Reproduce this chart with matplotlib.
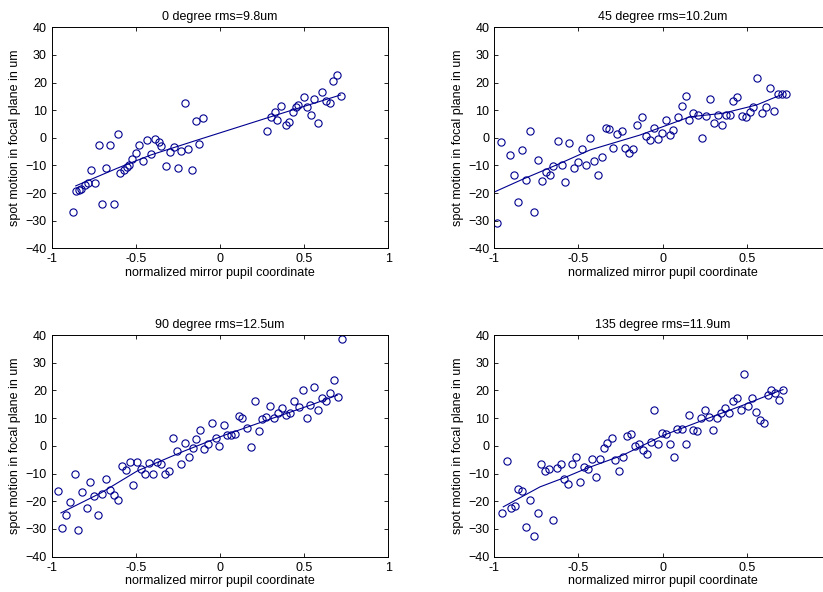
import matplotlib
matplotlib.use("Agg")
import matplotlib.pyplot as plt

plt.rcParams['font.family'] = ['Liberation Sans', 'DejaVu Sans']

titles = ["0 degree rms=9.8um", "45 degree rms=10.2um",
          "90 degree rms=12.5um", "135 degree rms=11.9um"]

# 0 degree
x0 = [-0.876, -0.855, -0.837, -0.827, -0.803, -0.783, -0.766, -0.740, -0.718, -0.700,
      -0.677, -0.653, -0.629, -0.605, -0.593, -0.570, -0.550, -0.540, -0.520, -0.500,
      -0.481, -0.455, -0.431, -0.408, -0.386, -0.362, -0.348, -0.318, -0.299, -0.273,
      -0.249, -0.233, -0.210, -0.188, -0.164, -0.140, -0.123, -0.101,
      0.278, 0.302, 0.325, 0.341, 0.365, 0.390, 0.412, 0.435, 0.449, 0.465, 0.498,
      0.518, 0.543, 0.561, 0.582, 0.608, 0.627, 0.651, 0.671, 0.694, 0.718]
y0 = [-27.0, -19.4, -18.9, -18.6, -17.2, -16.5, -11.8, -16.2, -2.7, -24.1,
      -11.0, -2.5, -23.9, 1.2, -12.9, -11.5, -10.5, -9.9, -7.5, -5.4,
      -2.7, -8.3, -0.8, -5.9, -0.5, -1.4, -2.9, -10.1, -5.3, -3.5,
      -11.1, -4.8, 12.7, -4.1, -11.7, 6.2, -2.1, 7.0,
      2.4, 7.4, 9.2, 6.6, 11.5, 4.5, 5.9, 9.3, 11.0, 11.7, 14.7,
      11.0, 8.1, 13.9, 5.2, 16.5, 13.4, 12.7, 20.6, 22.6, 15.1]
fx0 = [-0.857, -0.61, -0.41, -0.134, 0.301, 0.716]
fy0 = [-17.4, -11.0, -6.2, -0.8, 7.6, 15.5]

# 45 degree
x1 = [-0.982, -0.958, -0.906, -0.881, -0.859, -0.833, -0.811, -0.788, -0.764, -0.740,
      -0.716, -0.694, -0.671, -0.649, -0.623, -0.599, -0.578, -0.554, -0.525, -0.501,
      -0.477, -0.455, -0.431, -0.408, -0.384, -0.360, -0.338, -0.317, -0.293, -0.269,
      -0.243, -0.222, -0.198, -0.174, -0.151, -0.121, -0.099, -0.075, -0.052, -0.030,
      -0.006, 0.018, 0.043, 0.063, 0.089, 0.113, 0.136, 0.158, 0.182, 0.208,
      0.233, 0.257, 0.281, 0.304, 0.326, 0.350, 0.376, 0.399, 0.419, 0.443,
      0.469, 0.494, 0.518, 0.538, 0.561, 0.588, 0.613, 0.637, 0.661, 0.683,
      0.706, 0.730]
y1 = [-30.8, -1.7, -6.2, -13.5, -23.2, -4.5, -15.1, 2.4, -27.0, -8.0,
      -15.7, -12.4, -13.3, -10.1, -1.2, -10.0, -16.0, -1.9, -11.1, -8.7,
      -4.1, -9.7, -0.1, -8.4, -13.5, -7.0, 3.7, 3.1, -3.7, 1.2,
      2.4, -3.7, -5.4, -4.0, 4.5, 7.4, 0.6, -0.8, 3.4, -0.6,
      1.6, 6.6, 1.0, 2.8, 7.4, 11.5, 15.0, 6.4, 9.0, 8.1,
      -0.2, 7.8, 14.0, 5.2, 8.2, 4.8, 8.4, 8.2, 13.3, 14.6,
      7.8, 7.6, 9.3, 11.2, 21.8, 8.8, 11.0, 17.9, 9.8, 15.8,
      15.7, 15.8]
fx1 = [-0.995, -0.827, -0.629, -0.431, -0.135, 0.162, 0.36, 0.558, 0.716]
fy1 = [-19.5, -14.9, -9.8, -4.4, 1.0, 7.6, 8.9, 11.9, 15.9]

# 90 degree
x2 = [-0.961, -0.940, -0.916, -0.892, -0.863, -0.841, -0.817, -0.793, -0.772, -0.748,
      -0.724, -0.700, -0.677, -0.653, -0.629, -0.605, -0.584, -0.560, -0.536, -0.514,
      -0.491, -0.467, -0.445, -0.421, -0.398, -0.374, -0.352, -0.328, -0.303, -0.279,
      -0.257, -0.233, -0.210, -0.186, -0.162, -0.140, -0.117, -0.095, -0.071, -0.047,
      -0.026, -0.003, 0.024, 0.043, 0.067, 0.090, 0.114, 0.133, 0.161, 0.184,
      0.208, 0.229, 0.251, 0.275, 0.298, 0.322, 0.345, 0.369, 0.392, 0.416,
      0.439, 0.469, 0.492, 0.514, 0.537, 0.561, 0.582, 0.606, 0.631, 0.653,
      0.676, 0.700, 0.724]
y2 = [-16.4, -29.5, -24.8, -20.2, -10.3, -30.4, -16.8, -22.4, -12.9, -18.2,
      -25.1, -17.2, -11.9, -15.8, -17.6, -19.4, -7.2, -8.8, -6.0, -14.2,
      -5.9, -8.5, -10.3, -6.3, -10.3, -5.9, -6.4, -10.3, -9.0, 3.0,
      -1.8, -6.4, 1.1, -4.0, -0.6, 2.3, 5.7, -1.0, 0.6, 8.1,
      2.9, 0.1, 7.7, 3.9, 3.9, 4.1, 10.6, 10.1, 6.3, -0.4,
      16.2, 5.3, 9.6, 10.5, 14.3, 9.9, 11.9, 13.8, 11.3, 11.7,
      16.2, 14.1, 20.3, 10.2, 14.7, 21.1, 12.9, 17.4, 16.2, 19.1,
      23.6, 17.7, 38.7]
fx2 = [-0.945, -0.708, -0.49, -0.214, 0.024, 0.281, 0.538, 0.697]
fy2 = [-24.2, -17.0, -9.0, -1.9, 3.8, 9.3, 14.7, 18.3]

# 135 degree
x3 = [-0.952, -0.926, -0.902, -0.877, -0.857, -0.833, -0.811, -0.788, -0.764, -0.740,
      -0.722, -0.699, -0.677, -0.653, -0.629, -0.605, -0.584, -0.560, -0.536, -0.513,
      -0.489, -0.465, -0.442, -0.420, -0.396, -0.372, -0.350, -0.329, -0.303, -0.281,
      -0.258, -0.234, -0.210, -0.190, -0.164, -0.141, -0.119, -0.095, -0.069, -0.052,
      -0.026, -0.006, 0.018, 0.042, 0.065, 0.087, 0.113, 0.136, 0.158, 0.182,
      0.205, 0.229, 0.253, 0.277, 0.300, 0.324, 0.346, 0.370, 0.393, 0.416,
      0.439, 0.463, 0.484, 0.508, 0.532, 0.556, 0.577, 0.601, 0.623, 0.645,
      0.668, 0.690, 0.714]
y3 = [-24.1, -5.4, -22.3, -21.7, -15.6, -16.4, -29.2, -19.6, -32.4, -24.1,
      -6.7, -9.0, -8.2, -26.6, -7.9, -6.7, -11.8, -13.8, -6.4, -4.2,
      -13.2, -7.8, -8.4, -4.9, -11.4, -4.6, -0.7, 1.1, 2.9, -5.2,
      -9.1, -4.0, 3.5, 4.1, 0.0, 0.8, -1.6, -2.8, 1.4, 13.1,
      0.8, 4.5, 4.2, 0.6, -4.2, 6.0, 6.0, 0.5, 11.0, 5.7,
      5.3, 9.9, 13.1, 10.5, 5.7, 10.0, 12.0, 13.8, 12.0, 16.1,
      17.4, 13.1, 25.8, 14.3, 17.2, 12.3, 9.3, 8.1, 18.3, 20.3,
      18.9, 16.5, 20.3]
fx3 = [-0.946, -0.728, -0.58, -0.451, -0.234, 0.004, 0.241, 0.478, 0.677, 0.714]
fy3 = [-22.0, -14.8, -11.4, -8.1, -3.3, 3.8, 9.3, 14.7, 19.5, 20.3]

xs = [x0, x1, x2, x3]
ys = [y0, y1, y2, y3]
fxs = [fx0, fx1, fx2, fx3]
fys = [fy0, fy1, fy2, fy3]

W, H = 823, 592
fig = plt.figure(figsize=(W / 100, H / 100), dpi=100)

# axes boxes in pixels: left, top, right, bottom (right column runs off the image edge)
boxes = [(51.7, 27.3, 388.3, 248.3), (494.2, 27.3, 831.2, 248.3),
         (51.7, 335.0, 388.3, 556.7), (494.2, 335.0, 831.2, 556.7)]

blue = '#00008f'
fs = 9
for i in range(4):
    l, t, r, b = boxes[i]
    ax = fig.add_axes([l / W, 1 - b / H, (r - l) / W, (b - t) / H])
    ax.plot(xs[i], ys[i], 'o', mfc='none', mec=blue, ms=5.2, mew=0.8)
    ax.plot(fxs[i], fys[i], '-', color=blue, lw=0.8)
    ax.set_xlim(-1, 1)
    ax.set_ylim(-40, 40)
    ax.set_xticks([-1, -0.5, 0, 0.5, 1])
    if i % 2 == 0:
        ax.set_xticklabels(['-1', '-0.5', '0', '0.5', '1'])
    else:
        ax.set_xticklabels(['-1', '-0.5', '0', '0.5', ''])
    ax.set_yticks(range(-40, 41, 10))
    ax.tick_params(direction='in', top=True, right=True, length=3, width=0.6,
                   labelsize=fs, pad=3.5)
    for s in ax.spines.values():
        s.set_linewidth(0.7)
    ax.set_title(titles[i], fontsize=fs, pad=5)
    ax.set_xlabel('normalized mirror pupil coordinate', fontsize=fs, labelpad=1)
    ax.set_ylabel('spot motion in focal plane in um', fontsize=fs, labelpad=3)

fig.savefig('out.png', dpi=100)
